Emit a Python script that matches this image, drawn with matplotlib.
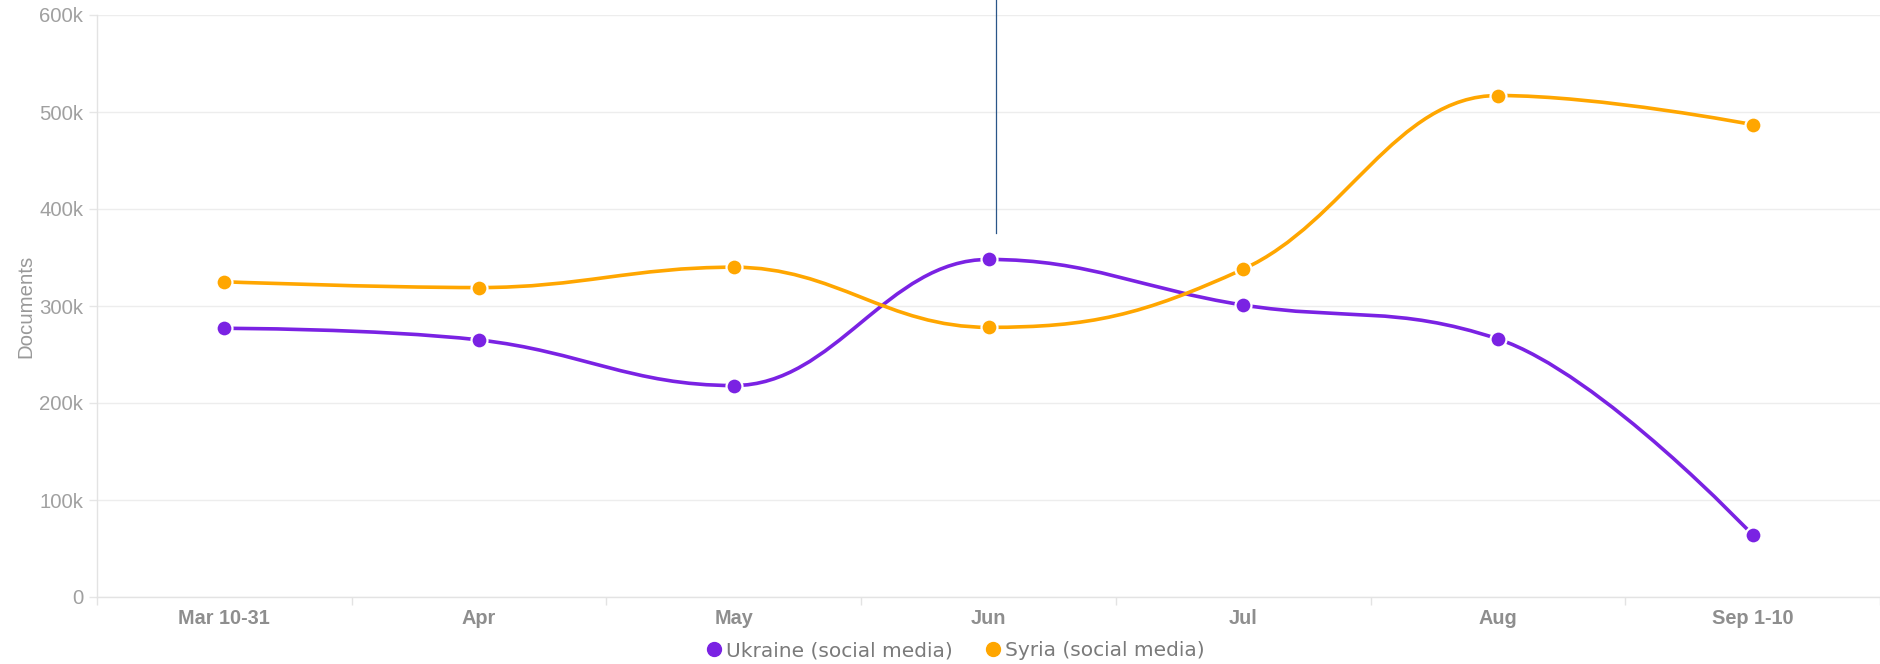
import numpy as np
import matplotlib
matplotlib.use("Agg")
import matplotlib.pyplot as plt
from matplotlib.path import Path
from matplotlib.patches import PathPatch
from matplotlib.lines import Line2D
from matplotlib.ticker import FuncFormatter

categories = ["Mar 10-31", "Apr", "May", "Jun", "Jul", "Aug", "Sep 1-10"]
ukraine = [277000, 265000, 218000, 348000, 301000, 266000, 64000]
syria = [325000, 319000, 340000, 278000, 338000, 517000, 487000]
series_names = ["Ukraine (social media)", "Syria (social media)"]
colors = ["#7a22e3", "#ffa600"]


def spline_path(xs, ys, smoothing=1.5):
    # highcharts-style spline: bezier control points from neighbours
    denom = smoothing + 1
    n = len(xs)
    left = [None] * n
    right = [None] * n
    for i in range(n):
        x, y = xs[i], ys[i]
        if 0 < i < n - 1:
            lx, ly = xs[i - 1], ys[i - 1]
            nx_, ny = xs[i + 1], ys[i + 1]
            lcx = (smoothing * x + lx) / denom
            lcy = (smoothing * y + ly) / denom
            rcx = (smoothing * x + nx_) / denom
            rcy = (smoothing * y + ny) / denom
            if rcx != lcx:
                corr = (rcy - lcy) * (rcx - x) / (rcx - lcx) + y - rcy
                lcy += corr
                rcy += corr
            if lcy > ly and lcy > y:
                lcy = max(ly, y)
                rcy = 2 * y - lcy
            elif lcy < ly and lcy < y:
                lcy = min(ly, y)
                rcy = 2 * y - lcy
            if rcy > ny and rcy > y:
                rcy = max(ny, y)
                lcy = 2 * y - rcy
            elif rcy < ny and rcy < y:
                rcy = min(ny, y)
                lcy = 2 * y - rcy
            left[i] = (lcx, lcy)
            right[i] = (rcx, rcy)
        else:
            left[i] = (x, y)
            right[i] = (x, y)
    verts = [(xs[0], ys[0])]
    codes = [Path.MOVETO]
    for i in range(1, n):
        verts += [right[i - 1], left[i], (xs[i], ys[i])]
        codes += [Path.CURVE4] * 3
    return Path(verts, codes)


fig = plt.figure(figsize=(18.8, 6.64), dpi=100)
ax = fig.add_axes([97 / 1880, 67 / 664, 1 - 97 / 1880, 582 / 664])

x = np.arange(len(categories))
for vals, c in zip([ukraine, syria], colors):
    p = spline_path(list(x), vals)
    ax.add_patch(PathPatch(p, facecolor="none", edgecolor=c, lw=2.6,
                           capstyle="round", joinstyle="round", zorder=3))
    ax.plot(x, vals, "o", color=c, ms=11.5, mec="white", mew=1.6, zorder=4)

# hover crosshair over Jun
ax.plot([3.03, 3.03], [375000, 620000], color="#2a5688", lw=0.9,
        clip_on=False, zorder=2)

ax.set_xlim(-0.5, len(categories) - 0.5)
ax.set_ylim(0, 600000)
ax.set_yticks(np.arange(0, 600001, 100000))
ax.yaxis.set_major_formatter(FuncFormatter(lambda v, p: "0" if v == 0 else f"{int(v/1000)}k"))
ax.set_xticks(x)
ax.set_xticklabels(categories)
ax.set_xticks(np.arange(-0.5, len(categories)), minor=True)

ax.grid(axis="y", color="#ededed", lw=1.0)
ax.set_axisbelow(True)
for s in ["top", "right"]:
    ax.spines[s].set_visible(False)
for s in ["left", "bottom"]:
    ax.spines[s].set_color("#e3e3e3")
    ax.spines[s].set_linewidth(1.0)

ax.tick_params(axis="x", which="major", length=0, pad=9,
               labelsize=14.3, labelcolor="#8e8e8e")
ax.tick_params(axis="x", which="minor", length=6, color="#e3e3e3", width=1)
ax.tick_params(axis="y", length=6, color="#e6e6e6", width=1, pad=4,
               labelsize=14.7, labelcolor="#a0a0a0")
for lab in ax.get_xticklabels():
    lab.set_family("Liberation Sans")
    lab.set_fontweight("bold")
for lab in ax.get_yticklabels():
    lab.set_family("Liberation Sans")

ax.set_ylabel("Documents", fontsize=14.7, color="#999999",
              family="Liberation Sans", labelpad=3)

handles = [Line2D([], [], ls="", marker="o", color=c, ms=10) for c in colors]
fig.legend(handles, series_names, loc="center", bbox_to_anchor=(956 / 1880, 13 / 664),
           ncol=2, frameon=False, handlelength=0.6, handletextpad=0.3,
           columnspacing=1.7, labelcolor="#7a7a7a", borderpad=0,
           prop={"family": "DejaVu Sans", "size": 14.5})

fig.savefig("out.png", dpi=100)
